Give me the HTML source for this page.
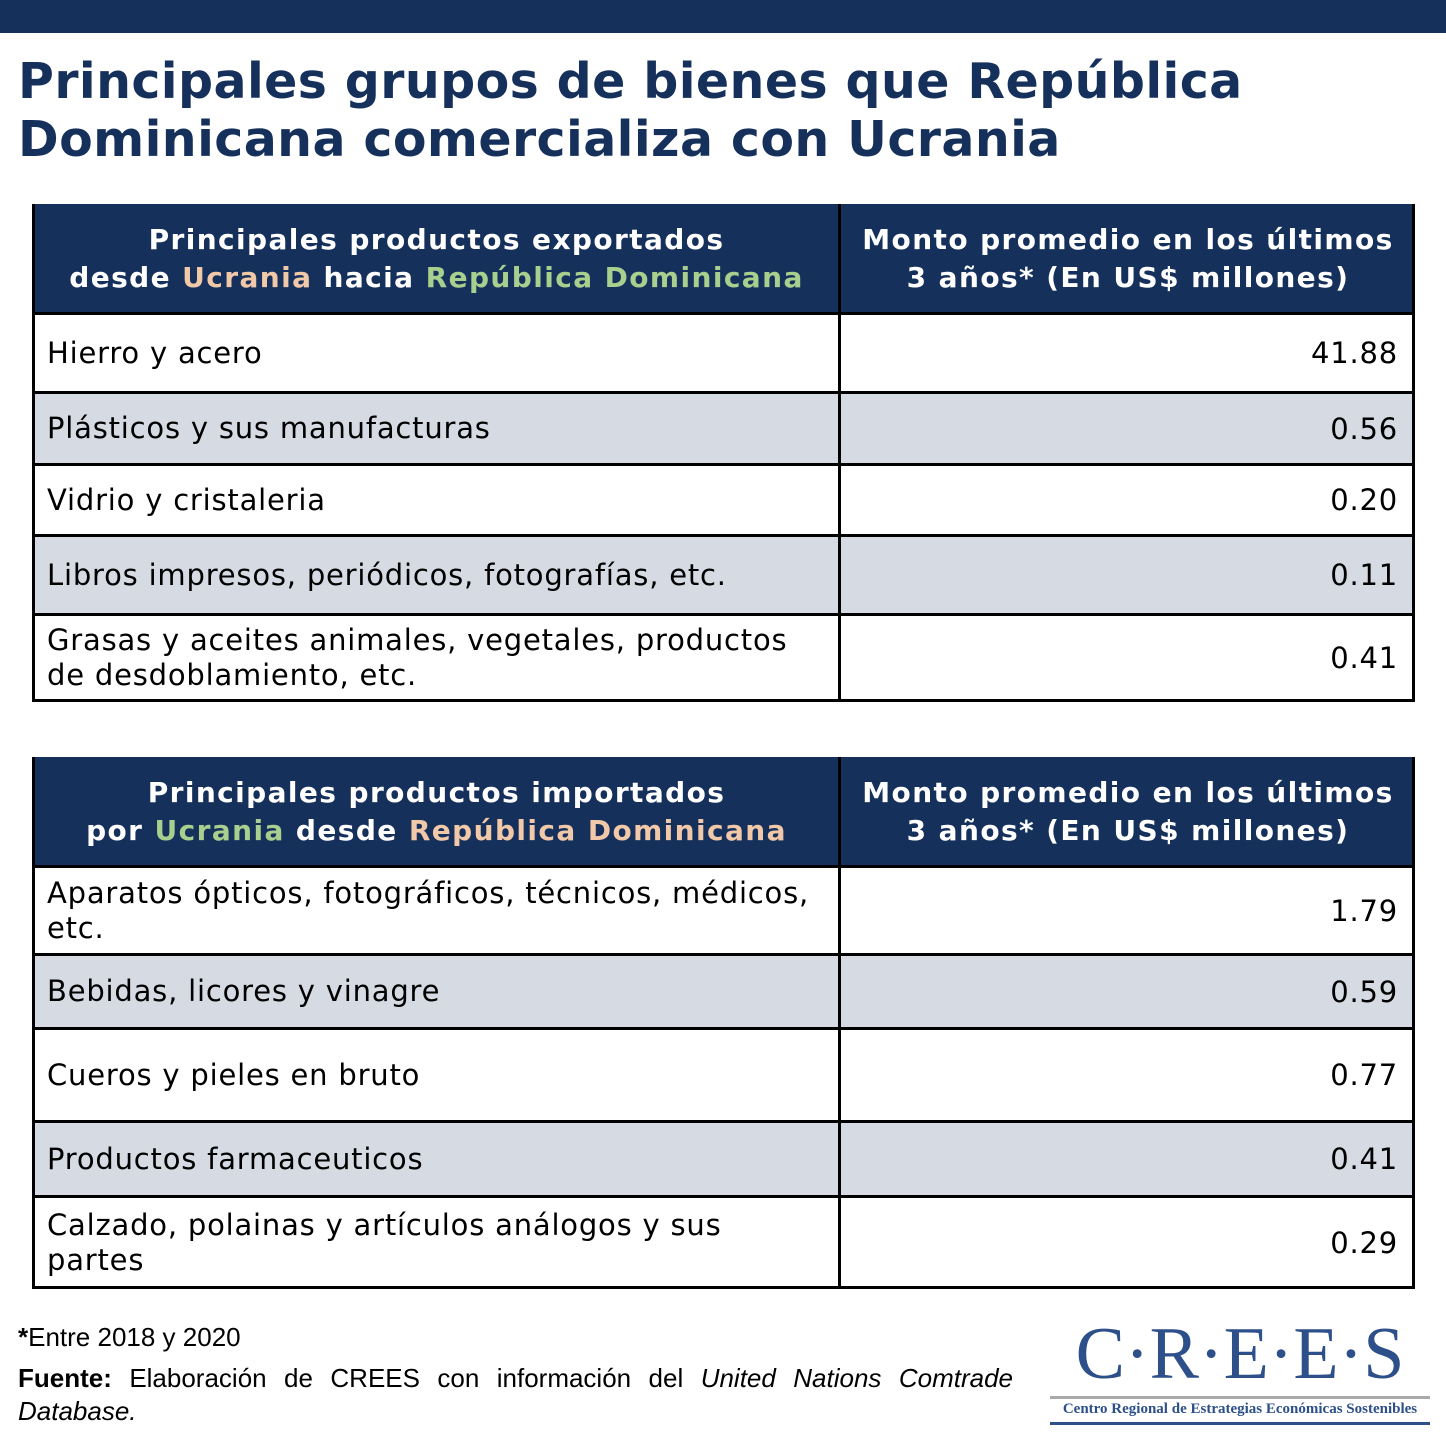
<!DOCTYPE html>
<html><head><meta charset="utf-8"><style>
*{margin:0;padding:0;box-sizing:border-box}
body{width:1446px;height:1446px;background:#fff;position:relative;overflow:hidden;font-family:"DejaVu Sans","Liberation Sans",sans-serif}
.bar{position:absolute;left:0;top:0;width:1446px;height:33px;background:#16305c}
.title{position:absolute;left:18px;top:53px;font-weight:bold;color:#16305c;font-size:49px;line-height:58px;letter-spacing:0.4px}
.tbl{position:absolute;left:32px;width:1383px;border:3px solid #000}
.row{position:absolute;left:0;width:1377px;border-top:3px solid #000}
.c1,.c2{position:absolute;top:0;bottom:0;display:flex;align-items:center}
.c1{left:0;width:806px;padding-left:12px;font-size:29px;letter-spacing:0.8px;line-height:35px;border-right:3px solid #000}
.c2{left:809px;right:0;justify-content:flex-end;padding-right:14px;font-size:29px;letter-spacing:0.8px}
.hd{background:#16305c;color:#fff;font-weight:bold}
.hd .c1,.hd .c2{justify-content:center;text-align:center;padding:0;font-size:28px;letter-spacing:1.4px;line-height:38px}
.g{background:#d6dae3}
.pe{color:#f2c9a8}.gr{color:#a9cf8e}
.foot{position:absolute;left:18px;font-family:"Liberation Sans",sans-serif;font-size:26px;color:#000}
</style></head><body>
<div class="bar"></div>
<div class="title">Principales grupos de bienes que República<br>Dominicana comercializa con Ucrania</div>

<div class="tbl" style="top:204px;height:498px">
 <div class="row hd" style="top:-3px;height:110px;border-top:none"><div class="c1"><div>Principales productos exportados<br>desde <span class="pe">Ucrania</span> hacia <span class="gr">República Dominicana</span></div></div><div class="c2"><div>Monto promedio en los últimos<br>3 años* (En US$ millones)</div></div></div>
 <div class="row" style="top:105px;height:79px"><div class="c1">Hierro y acero</div><div class="c2">41.88</div></div>
 <div class="row g" style="top:184px;height:72px"><div class="c1">Plásticos y sus manufacturas</div><div class="c2">0.56</div></div>
 <div class="row" style="top:256px;height:71px"><div class="c1">Vidrio y cristaleria</div><div class="c2">0.20</div></div>
 <div class="row g" style="top:327px;height:79px"><div class="c1">Libros impresos, periódicos, fotografías, etc.</div><div class="c2">0.11</div></div>
 <div class="row" style="top:406px;height:87px"><div class="c1"><div>Grasas y aceites animales, vegetales, productos<br>de desdoblamiento, etc.</div></div><div class="c2">0.41</div></div>
</div>

<div class="tbl" style="top:757px;height:532px">
 <div class="row hd" style="top:-3px;height:110px;border-top:none"><div class="c1"><div>Principales productos importados<br>por <span class="gr">Ucrania</span> desde <span class="pe">República Dominicana</span></div></div><div class="c2"><div>Monto promedio en los últimos<br>3 años* (En US$ millones)</div></div></div>
 <div class="row" style="top:105px;height:88px"><div class="c1"><div>Aparatos ópticos, fotográficos, técnicos, médicos,<br>etc.</div></div><div class="c2">1.79</div></div>
 <div class="row g" style="top:193px;height:74px"><div class="c1">Bebidas, licores y vinagre</div><div class="c2">0.59</div></div>
 <div class="row" style="top:267px;height:93px"><div class="c1">Cueros y pieles en bruto</div><div class="c2">0.77</div></div>
 <div class="row g" style="top:360px;height:75px"><div class="c1">Productos farmaceuticos</div><div class="c2">0.41</div></div>
 <div class="row" style="top:435px;height:92px"><div class="c1"><div>Calzado, polainas y artículos análogos y sus<br>partes</div></div><div class="c2">0.29</div></div>
</div>

<div class="foot" style="top:1322px"><b>*</b>Entre 2018 y 2020</div>
<div class="foot" style="top:1362px;width:995px;line-height:33px;text-align:justify"><b>Fuente:</b> Elaboración de CREES con información del <i>United Nations Comtrade Database.</i></div>

<div style="position:absolute;left:1050px;top:1318px;width:380px;height:110px">
 <div style="position:absolute;left:0;top:-2px;width:380px;text-align:center;font-family:'Liberation Serif',serif;font-size:74px;color:#2d4f8a;line-height:76px">C·R·E·E·S</div>
 <div style="position:absolute;left:0;top:78px;width:380px;height:3px;background:#aaa"></div>
 <div style="position:absolute;left:0;top:83px;width:380px;text-align:center;font-family:'Liberation Serif',serif;font-weight:bold;font-size:15px;color:#2d4f8a">Centro Regional de Estrategias Económicas Sostenibles</div>
 <div style="position:absolute;left:0;top:104px;width:380px;height:3px;background:#2d4f8a"></div>
</div>
</body></html>
